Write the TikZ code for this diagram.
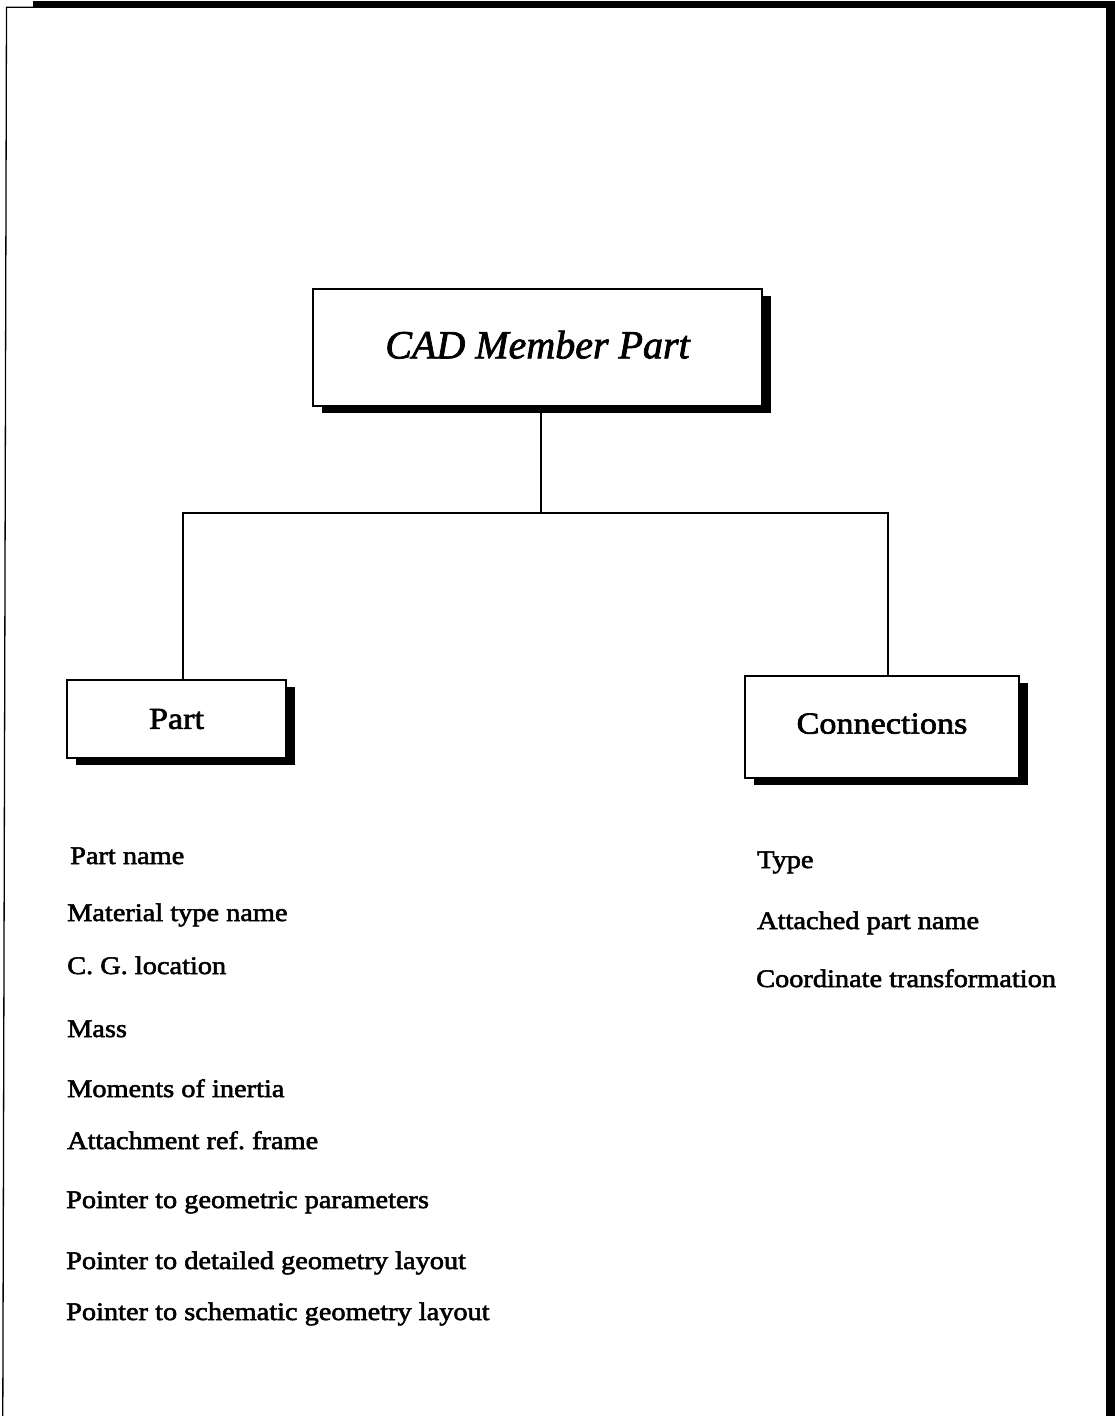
\documentclass[tikz,border=0pt]{standalone}
\usepackage{fontspec}
\setmainfont{Liberation Serif}[FakeStretch=1.12,FakeBold=2.2]
\newfontfamily\titlefont{Liberation Serif}[FakeBold=1.8]
\frenchspacing
\usetikzlibrary{shadows}
\begin{document}
\begin{tikzpicture}[x=1pt,y=-1pt,
  blockbox/.style={draw=black,line width=1.4pt,fill=white,inner sep=0pt,
    drop shadow={shadow xshift=9pt,shadow yshift=-7pt,fill=black,opacity=1}},
  link/.style={draw=black,line width=1.1pt},
  item/.style={anchor=base west,inner sep=0pt,font=\fontsize{25.3}{30}\selectfont},
  boxlabel/.style={font=\fontsize{30.5}{36}\selectfont}]
  % page area
  \useasboundingbox (0,0) rectangle (1115,1416);
  % page frame: heavy top and right edges, thin left edge
  \fill[black] (33,1) rectangle (1115,7.5);
  \fill[black] (1106,1) rectangle (1115,1416);
  \draw[line width=1.3pt] (33,7.3) -- (6.5,7.3) -- (2.8,1416);

  % blocks
  \node[blockbox,minimum width=449pt,minimum height=117pt] (cad) at (537.5,347.5)
    {\raisebox{6pt}{\titlefont\itshape\fontsize{40}{48}\selectfont CAD Member Part}};
  \node[blockbox,boxlabel,minimum width=219pt,minimum height=78pt] (part) at (176.5,719) {Part};
  \node[blockbox,boxlabel,minimum width=274pt,minimum height=102pt] (conn) at (882,727)
    {\raisebox{7pt}{Connections}};

  % tree connectors
  \coordinate (junction) at (541,513);
  \draw[link] ([xshift=3.5pt]cad.south) -- (junction);
  \draw[link] ([xshift=6.5pt]part.north) |- (junction) -| ([xshift=6pt]conn.north);

  % attributes of a part
  \node[item] (p1) at (70,864) {Part name};
  \node[item] (p2) at (67,921) {Material type name};
  \node[item] (p3) at (67,974) {C. G. location};
  \node[item] (p4) at (67,1037) {Mass};
  \node[item] (p5) at (67,1097) {Moments of inertia};
  \node[item] (p6) at (67,1149) {Attachment ref. frame};
  \node[item] (p7) at (66,1208) {Pointer to geometric parameters};
  \node[item] (p8) at (66,1269) {Pointer to detailed geometry layout};
  \node[item] (p9) at (66,1320) {Pointer to schematic geometry layout};

  % attributes of a connection
  \node[item] (c1) at (757,868) {Type};
  \node[item] (c2) at (757,929) {Attached part name};
  \node[item] (c3) at (756,987) {Coordinate transformation};
\end{tikzpicture}
\end{document}
